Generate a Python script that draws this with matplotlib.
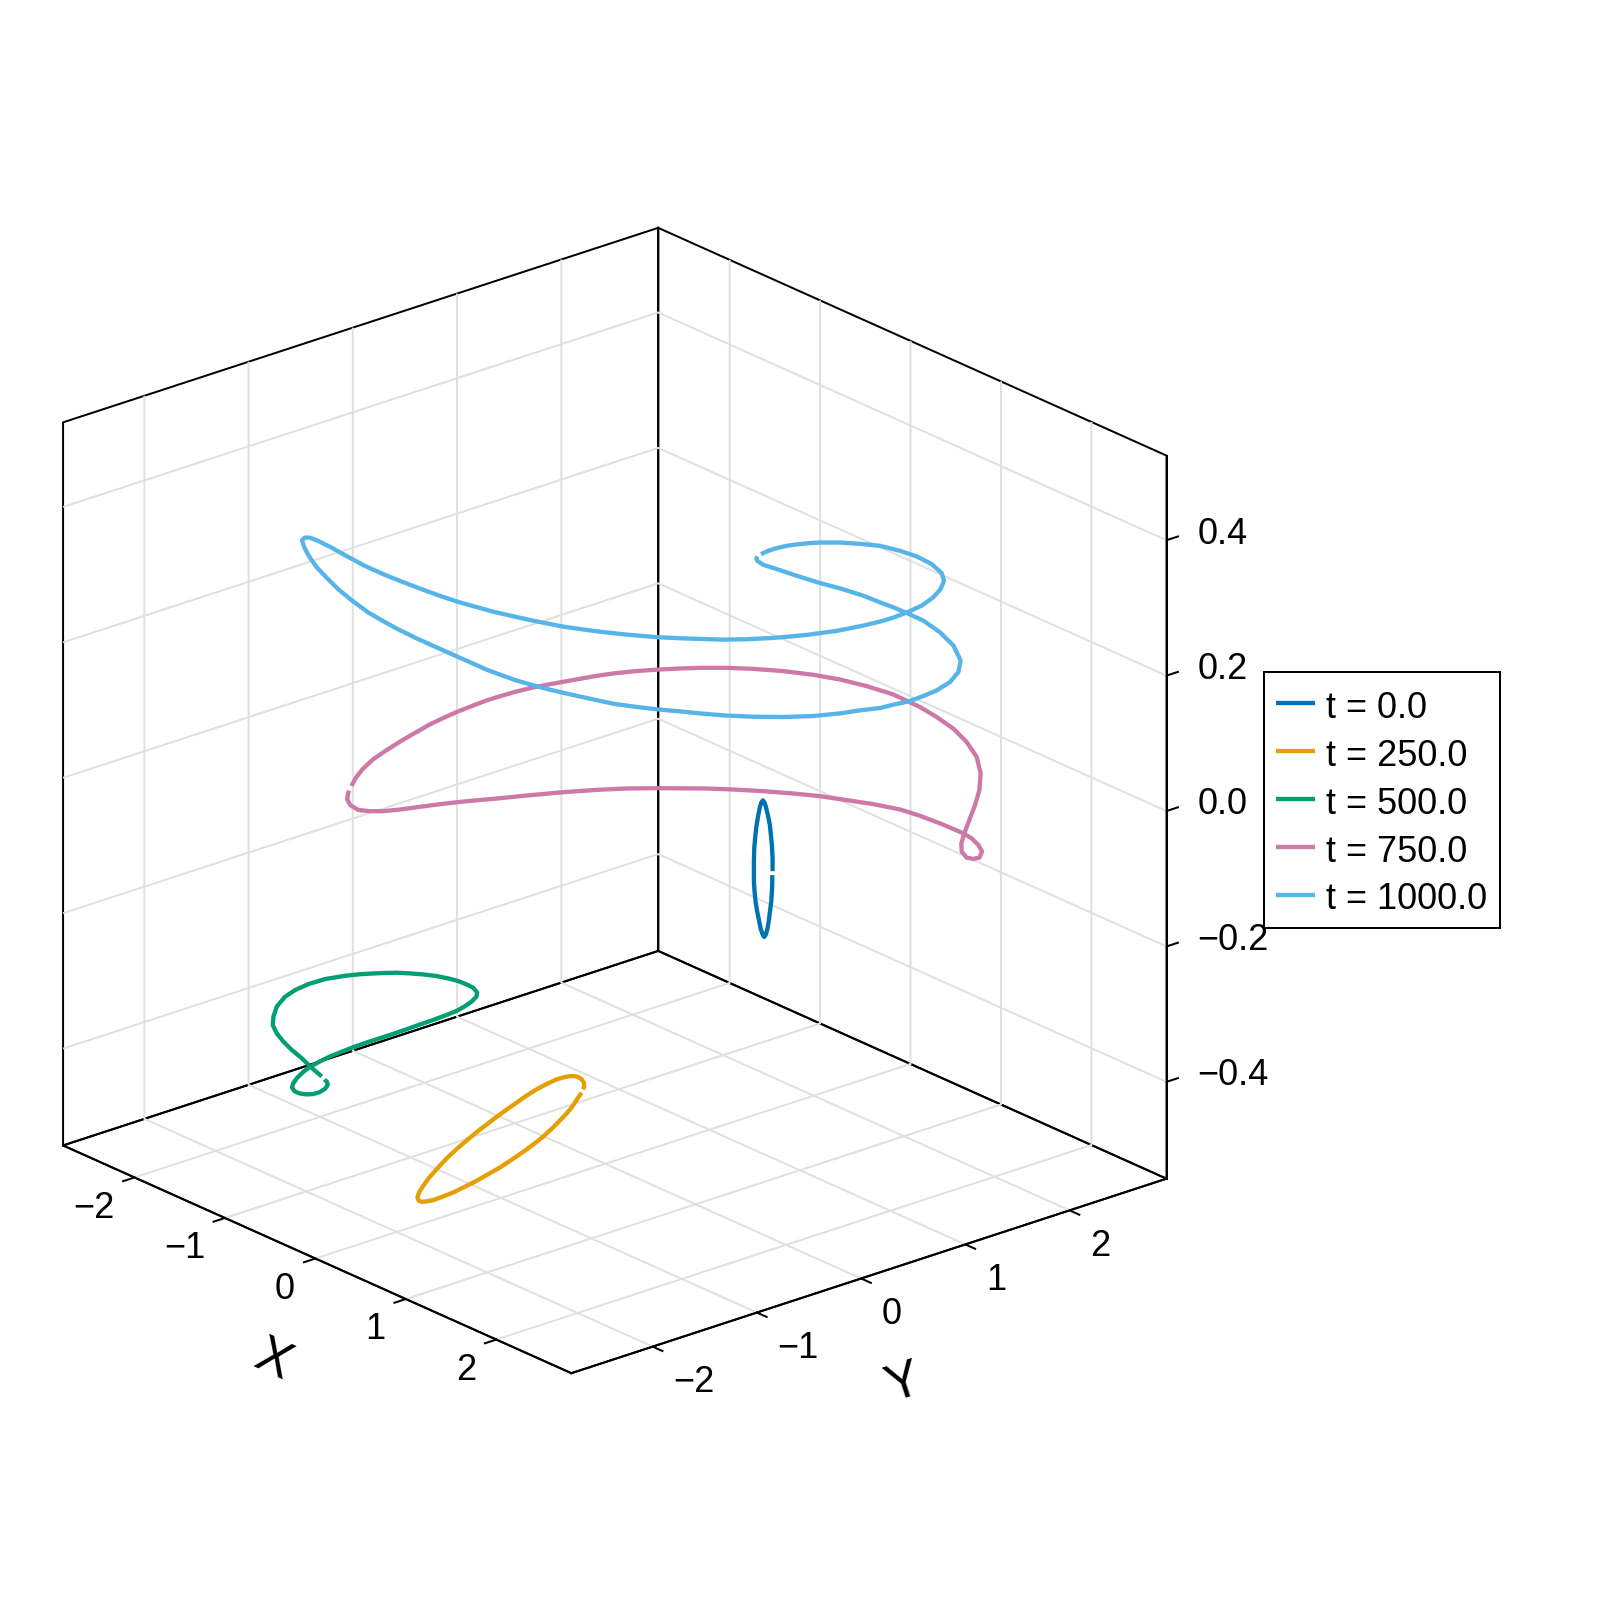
import matplotlib
matplotlib.use('Agg')
import matplotlib.pyplot as plt
from matplotlib.patches import Rectangle

plt.rcParams['font.family'] = ['Liberation Sans', 'DejaVu Sans']
plt.rcParams['grid.color'] = '#e0e0e0'
plt.rcParams['grid.linewidth'] = 1.44
plt.rcParams['xtick.major.width'] = 1.44
plt.rcParams['ytick.major.width'] = 1.44

# Curve values. One view cannot show depth along the
# line of sight, so that part of x and y is an estimate.
x_0 = [.7787, .7787, .7771, .7740, .7678, .7631, .7569, .7491, .7414, .7336, .7243, .7165, .7087, .7010, .6963, .6932, .6932, .6932, .6948, .6994, .7056, .7134, .7212, .7274, .7352, .7429, .7491, .7585, .7678, .7725, .7771, .7787, .7802, .7802, .7802]
y_0 = [.9274, .9274, .9255, .9218, .9144, .9089, .9015, .8922, .8830, .8737, .8626, .8534, .8441, .8349, .8293, .8256, .8256, .8256, .8275, .8330, .8404, .8497, .8589, .8663, .8756, .8848, .8922, .9034, .9144, .9200, .9255, .9274, .9292, .9292, .9292]
z_0 = [-.1167, -.1290, -.1412, -.1560, -.1707, -.1830, -.1952, -.2041, -.2080, -.2041, -.1952, -.1830, -.1707, -.1560, -.1412, -.1265, -.1118, -.0946, -.0774, -.0602, -.0430, -.0283, -.0160, -.0096, -.0062, -.0096, -.0160, -.0283, -.0430, -.0578, -.0725, -.0823, -.0921, -.1020, -.1108]

x_250 = [.8976, .9023, .9007, .8898, .8743, .8556, .8354, .8044, .7733, .7267, .6800, .6334, .5868, .5402, .4936, .4470, .4003, .3537, .3071, .2636, .2216, .1828, .1517, .1330, .1253, .1299, .1439, .1672, .1983, .2449, .2915, .3459, .4003, .4547, .5090, .5635, .6179, .6645, .7111, .7500, .7888, .8168, .8432, .8588, .8743, .8898]
y_250 = [-.990, -.984, -.986, -.999, -1.018, -1.040, -1.064, -1.101, -1.138, -1.193, -1.249, -1.305, -1.360, -1.416, -1.471, -1.527, -1.582, -1.638, -1.693, -1.745, -1.795, -1.841, -1.878, -1.901, -1.910, -1.904, -1.888, -1.860, -1.823, -1.767, -1.712, -1.647, -1.582, -1.517, -1.453, -1.388, -1.323, -1.268, -1.212, -1.166, -1.120, -1.086, -1.055, -1.036, -1.018, -.999]
z_250 = [-.3296, -.3247, -.3197, -.3143, -.3114, -.3099, -.3099, -.3119, -.3148, -.3217, -.3296, -.3389, -.3492, -.3595, -.3703, -.3816, -.3929, -.4052, -.4179, -.4307, -.4450, -.4587, -.4720, -.4818, -.4891, -.4936, -.4955, -.4950, -.4931, -.4877, -.4818, -.4734, -.4646, -.4548, -.4450, -.4337, -.4219, -.4111, -.3993, -.3880, -.3757, -.3664, -.3566, -.3492, -.3418, -.3345]

x_500 = [-1.3207, -1.3518, -1.3782, -1.4140, -1.4606, -1.4994, -1.5305, -1.5492, -1.5461, -1.5305, -1.4917, -1.4451, -1.3829, -1.3052, -1.2120, -1.1343, -1.0410, -.9726, -.9105, -.8483, -.7862, -.7318, -.6852, -.6463, -.6152, -.5966, -.5997, -.6230, -.6541, -.6929, -.7473, -.8017, -.8639, -.9260, -.9882, -1.0503, -1.1125, -1.1747, -1.2290, -1.2834, -1.3332, -1.3782, -1.4078, -1.4342, -1.4544, -1.4590, -1.4466, -1.4233, -1.3922, -1.3611, -1.3301, -1.3052, -1.2928, -1.2959, -1.3083]
y_500 = [-1.573, -1.610, -1.641, -1.684, -1.740, -1.786, -1.823, -1.845, -1.841, -1.823, -1.777, -1.721, -1.647, -1.554, -1.443, -1.351, -1.240, -1.158, -1.084, -1.010, -.936, -.872, -.816, -.770, -.733, -.711, -.714, -.742, -.779, -.825, -.890, -.955, -1.029, -1.103, -1.177, -1.251, -1.325, -1.399, -1.464, -1.529, -1.588, -1.641, -1.677, -1.708, -1.732, -1.738, -1.723, -1.695, -1.658, -1.621, -1.584, -1.554, -1.540, -1.543, -1.558]
z_500 = [-.4139, -.4056, -.3982, -.3869, -.3746, -.3624, -.3501, -.3378, -.3255, -.3108, -.2961, -.2863, -.2774, -.2701, -.2652, -.2627, -.2612, -.2607, -.2617, -.2632, -.2656, -.2691, -.2730, -.2779, -.2828, -.2897, -.2961, -.3035, -.3103, -.3172, -.3241, -.3305, -.3373, -.3442, -.3511, -.3575, -.3638, -.3707, -.3776, -.3845, -.3923, -.4002, -.4075, -.4154, -.4242, -.4301, -.4360, -.4390, -.4404, -.4399, -.4370, -.4321, -.4262, -.4223, -.4183]

x_750 = [-1.1825, -1.1592, -1.1281, -1.0815, -1.0271, -.9494, -.8795, -.8173, -.7551, -.6930, -.6230, -.5531, -.4832, -.4133, -.3433, -.2734, -.1957, -.1180, -.0403, .0374, .1384, .2472, .3483,
         .4415, .5659, .6902, .8300, .9699, 1.0942, 1.2185, 1.3429, 1.4672, 1.5449, 1.6226, 1.6847, 1.7314, 1.7500, 1.7438, 1.7236, 1.6972, 1.6739, 1.6599, 1.6614, 1.6847, 1.7158, 1.7438, 1.7562, 1.7391, 1.7081, 1.6692, 1.6226, 1.5604, 1.4672, 1.3739, 1.2496, 1.1253, 1.0010, .8767, .7368, .5969, .4726,
         .2472, .0996, -.0403, -.1957, -.3511, -.5065, -.6775, -.7707, -.8639, -.9572, -1.0349, -1.0970, -1.1514, -1.1872, -1.2027, -1.1980, -1.1934]
y_750 = [-1.408, -1.381, -1.344, -1.288, -1.223, -1.131, -1.047, -.973, -.899, -.825, -.742, -.659, -.575, -.492, -.409, -.326, -.233, -.141, -.048, .045, .165, .294, .415,
         .526, .674, .822, .989, 1.155, 1.303, 1.451, 1.599, 1.747, 1.840, 1.933, 2.006, 2.062, 2.084, 2.077, 2.053, 2.021, 1.994, 1.977, 1.979, 2.006, 2.044, 2.077, 2.092, 2.071, 2.034, 1.988, 1.933, 1.858, 1.747, 1.636, 1.488, 1.340, 1.192, 1.044, .878, .711, .563,
         .294, .119, -.048, -.233, -.418, -.603, -.807, -.918, -1.029, -1.140, -1.233, -1.307, -1.371, -1.414, -1.432, -1.427, -1.421]
z_750 = [.0152, .0285, .0407, .0545, .0663, .0820, .0947, .1060, .1154, .1242, .1330, .1414, .1483, .1546, .1600, .1645, .1689, .1733, .1777, .1812, .1846, .1870, .1885,
         .1895, .1895, .1880, .1846, .1792, .1723, .1625, .1502, .1316, .1168, .0996, .0800, .0579, .0334, .0088, -.0133, -.0354, -.0550, -.0697, -.0820, -.0909, -.0928, -.0909, -.0820, -.0722, -.0624, -.0550, -.0486, -.0403, -.0290, -.0197, -.0118, -.0059, .0000, .0039, .0073, .0098, .0113,
         .0118, .0113, .0093, .0059, .0014, -.0035, -.0084, -.0118, -.0157, -.0197, -.0221, -.0221, -.0202, -.0133, -.0044, .0039, .0083]

x_1000 = [.7259, .7601, .7990, .8456, .8922, .9466, 1.0010, 1.0942, 1.1875, 1.2807, 1.3739, 1.4516, 1.5216, 1.5682, 1.5791, 1.5635, 1.5293, 1.4750, 1.4050, 1.3429, 1.2807, 1.2030, 1.1408, 1.0787, 1.0088, .9388, .8611, .7834, .6591, .5503, .4415,
          .3483, .2472, .0996, -.0403, -.1957, -.3511, -.5220, -.6930, -.7707, -.8484, -.9338, -1.0271, -1.1203, -1.1980, -1.2757, -1.3379, -1.3767, -1.4000, -1.4125, -1.4032, -1.3814, -1.3457, -1.2990, -1.2446, -1.1825, -1.1048, -1.0271, -.9649, -.8795, -.7862, -.6930, -.6230, -.5531, -.4832, -.4133, -.3433, -.2734, -.1957, -.1180, .0374, .1384, .2472,
          .3483, .4415, .5503, .6902, .8300, .9699, 1.0942, 1.1875, 1.2807, 1.3429, 1.4206, 1.4827, 1.5449, 1.6070, 1.6459, 1.6568, 1.6226, 1.5604, 1.4827, 1.4050, 1.3429, 1.2807, 1.2030, 1.0942, 1.0010, .8922, .7990, .7368, .7088, .7042, .7104]
y_1000 = [.865, .905, .952, 1.007, 1.063, 1.127, 1.192, 1.303, 1.414, 1.525, 1.636, 1.729, 1.812, 1.868, 1.881, 1.862, 1.821, 1.757, 1.673, 1.599, 1.525, 1.433, 1.359, 1.285, 1.201, 1.118, 1.026, .933, .785, .655, .526,
          .415, .294, .119, -.048, -.233, -.418, -.622, -.825, -.918, -1.010, -1.112, -1.223, -1.334, -1.427, -1.519, -1.593, -1.640, -1.667, -1.682, -1.671, -1.645, -1.603, -1.547, -1.482, -1.408, -1.316, -1.223, -1.149, -1.047, -.936, -.825, -.742, -.659, -.575, -.492, -.409, -.326, -.233, -.141, .045, .165, .294,
          .415, .526, .655, .822, .989, 1.155, 1.303, 1.414, 1.525, 1.599, 1.692, 1.766, 1.840, 1.914, 1.960, 1.973, 1.933, 1.858, 1.766, 1.673, 1.599, 1.525, 1.433, 1.303, 1.192, 1.063, .952, .878, .844, .839, .846]
z_1000 = [.3574, .3623, .3663, .3697, .3717, .3736, .3746, .3746, .3726, .3697, .3623, .3540, .3427, .3294, .3181, .3059, .2936, .2813, .2710, .2636, .2578, .2519, .2479, .2440, .2411, .2381, .2357, .2337, .2317, .2312, .2322,
          .2332, .2347, .2386, .2435, .2504, .2602, .2725, .2877, .2960, .3049, .3152, .3270, .3402, .3535, .3672, .3771, .3820, .3820, .3780, .3682, .3550, .3388, .3231, .3059, .2897, .2715, .2573, .2465, .2332, .2199, .2067, .1969, .1870, .1787, .1708, .1645, .1586, .1527, .1473, .1365, .1321, .1281,
          .1252, .1222, .1193, .1173, .1168, .1183, .1222, .1267, .1301, .1350, .1404, .1478, .1561, .1684, .1831, .2003, .2224, .2420, .2592, .2705, .2789, .2862, .2960, .3069, .3147, .3255, .3353, .3417, .3476, .3510, .3540]

labels = ['t = 0.0', 't = 250.0', 't = 500.0', 't = 750.0', 't = 1000.0']
colors = ['#0072B2', '#E69F00', '#009E73', '#CC79A7', '#56B4E9']
xy_ticks = [-2, -1, 0, 1, 2]
z_ticks = [-0.4, -0.2, 0.0, 0.2, 0.4]

fig = plt.figure(figsize=(16, 16), dpi=100)
ax = fig.add_axes([-61 / 1600, 123.7 / 1600, 1316 / 1600, 1316 / 1600], projection='3d')
ax.set_proj_type('ortho')
ax.view_init(elev=22.5, azim=-40.5)
ax.set_box_aspect((1, 1, 1))

curves = [(x_0, y_0, z_0), (x_250, y_250, z_250), (x_500, y_500, z_500),
          (x_750, y_750, z_750), (x_1000, y_1000, z_1000)]
for (xs, ys, zs), label, color in zip(curves, labels, colors):
    ax.plot(xs, ys, zs, color=color, lw=3.1, label=label,
            solid_capstyle='butt', solid_joinstyle='round')

ax.set_xlim(-2.79, 2.83, view_margin=0)
ax.set_ylim(-2.78, 2.93, view_margin=0)
ax.set_zlim(-0.543, 0.525, view_margin=0)
ax.set_xticks(xy_ticks)
ax.set_yticks(xy_ticks)
ax.set_zticks(z_ticks)

# axis titles run along their edge of the box
fig.text(273.5 / 1600, 1 - 1361 / 1600, 'X', fontsize=37, rotation=-24.3,
         rotation_mode='anchor', ha='center', va='center')
fig.text(904 / 1600, 1 - 1384 / 1600, 'Y', fontsize=37, rotation=18.2,
         rotation_mode='anchor', ha='center', va='center')

# z ticks on the right hand edge, pointing along y like the reference
ax.zaxis.set_ticks_position('upper')
ax.zaxis._get_tickdir = lambda pos: 1
# tick labels move along the tick only, not down the z direction as well
ax.xaxis._axmask = lambda: [False, True, False]
ax.yaxis._axmask = lambda: [True, False, False]
ax.zaxis._axmask = lambda: [False, True, False]

for axis in [ax.xaxis, ax.yaxis, ax.zaxis]:
    axis.pane.set_closed(True)
    axis.pane.set_alpha(None)
    axis.pane.set_facecolor((1, 1, 1, 0))
    axis.pane.set_edgecolor('black')
    axis.pane.set_linewidth(1.44)
    axis.line.set_linewidth(1.44)
    axis.line.set_color('black')
    axis._axinfo['tick']['inward_factor'] = 0

ax.xaxis._axinfo['tick']['outward_factor'] = -0.24
ax.yaxis._axinfo['tick']['outward_factor'] = -0.24
ax.zaxis._axinfo['tick']['outward_factor'] = 0.24
ax.xaxis.set_tick_params(labelsize=26, pad=25.4)
ax.yaxis.set_tick_params(labelsize=26, pad=31.6)
ax.zaxis.set_tick_params(labelsize=26, pad=17.5)

# single digit labels sit off centre on the side away from the minus sign
for t, value in zip(ax.xaxis.get_ticklabels(), xy_ticks):
    if value >= 0:
        t.set_ha('left')
for t, value in zip(ax.yaxis.get_ticklabels(), xy_ticks):
    if value >= 0:
        t.set_ha('right')
for t in ax.zaxis.get_ticklabels():
    t.set_ha('left')
    t.set_va('center_baseline')

# legend frame drawn on its own so the rows can sit where the reference has them
fig.add_artist(Rectangle((1264 / 1600, 1 - 928 / 1600), 236 / 1600, 256 / 1600,
                         transform=fig.transFigure, facecolor='white',
                         edgecolor='black', linewidth=1.44))
fig.legend(loc='upper left', bbox_to_anchor=(1262 / 1600, 1 - 675 / 1600),
           bbox_transform=fig.transFigure, borderaxespad=0, fontsize=26,
           frameon=False, handlelength=1.09, handleheight=1.05, handletextpad=0.29,
           labelspacing=0.30, borderpad=0.38)

fig.savefig('out.png', dpi=100)
